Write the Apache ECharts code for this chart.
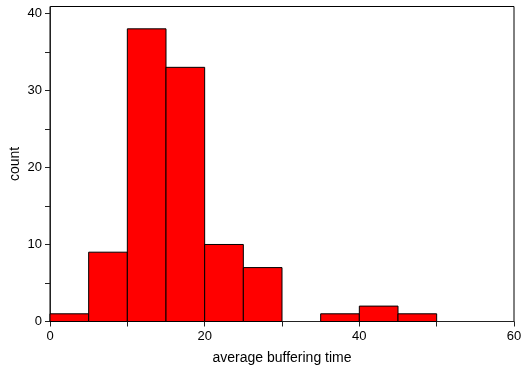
<!DOCTYPE html>
<html>
<head>
<meta charset="utf-8">
<script src="https://cdn.jsdelivr.net/npm/echarts@6/dist/echarts.min.js"></script>
<style>
  html, body { margin: 0; padding: 0; background: #fff; }
  #chart { width: 521px; height: 368px; }
</style>
</head>
<body>
<div id="chart"></div>
<script>
// Histogram of average buffering time, bins of width 5
const binStart = [0, 5, 10, 15, 20, 25, 30, 35, 40, 45];
const binWidth = 5;
const counts = [1, 9, 38, 33, 10, 7, 0, 1, 2, 1];
const xTicks = [0, 20, 40, 60];
const yTicks = [0, 10, 20, 30, 40];
const xMinorTicks = [10, 30, 50];
const yMinorTicks = [5, 15, 25, 35];

const font = 'Liberation Sans, Arial, sans-serif';
const chart = echarts.init(document.getElementById('chart'), null, { renderer: 'canvas' });

const bins = binStart.map((s, i) => [s, s + binWidth, counts[i]]);

chart.setOption({
  animation: false,
  backgroundColor: '#fff',
  grid: {
    left: 50, right: 7, top: 6.5, bottom: 46.5,
    containLabel: false, outerBoundsMode: 'none',
    show: true, borderColor: '#000', borderWidth: 1
  },
  xAxis: {
    type: 'value', min: 0, max: 60,
    name: 'average buffering time', nameLocation: 'middle', nameGap: 30,
    nameMoveOverlap: false,
    nameTextStyle: { fontFamily: font, fontSize: 14, color: '#000' },
    axisLine: { show: true, lineStyle: { color: '#222', width: 1 } },
    axisTick: { show: true, inside: false, length: 5, customValues: xTicks.concat(xMinorTicks).sort((a, b) => a - b), lineStyle: { color: '#222' } },
    axisLabel: { customValues: xTicks, fontFamily: font, fontSize: 13, color: '#000', margin: 8 },
    splitLine: { show: false }
  },
  yAxis: {
    type: 'value', min: 0, max: 40.9,
    name: 'count', nameLocation: 'middle', nameGap: 28,
    nameMoveOverlap: false,
    nameTextStyle: { fontFamily: font, fontSize: 14, color: '#000' },
    axisLine: { show: true, lineStyle: { color: '#222', width: 1 } },
    axisTick: { show: true, inside: false, length: 5, customValues: yTicks.concat(yMinorTicks).sort((a, b) => a - b), lineStyle: { color: '#222' } },
    axisLabel: { customValues: yTicks, fontFamily: font, fontSize: 13, color: '#000', margin: 8 },
    splitLine: { show: false }
  },
  series: [{
    type: 'custom',
    data: bins,
    encode: { x: [0, 1], y: 2 },
    renderItem: function (params, api) {
      // empty bins draw nothing
      if (!api.value(2)) return null;
      const p0 = api.coord([api.value(0), 0]);
      const p1 = api.coord([api.value(1), api.value(2)]);
      return {
        type: 'rect',
        shape: { x: p0[0], y: p1[1], width: p1[0] - p0[0], height: p0[1] - p1[1] },
        style: { fill: '#ff0000', stroke: '#000', lineWidth: 1 }
      };
    }
  }]
});
</script>
</body>
</html>
